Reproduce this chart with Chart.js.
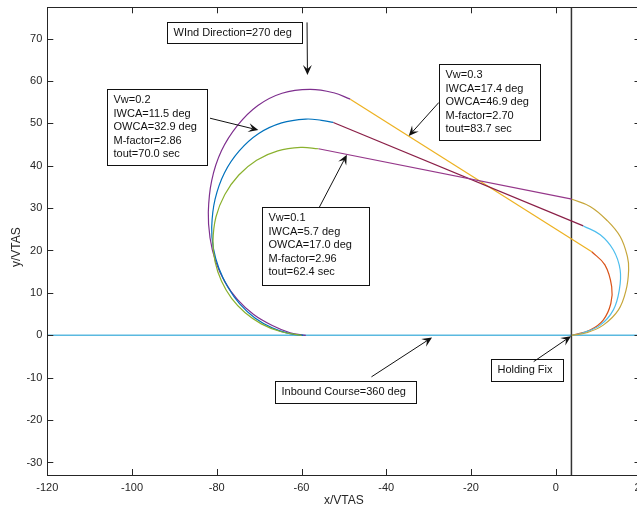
<!DOCTYPE html>
<html>
<head>
<meta charset="utf-8">
<script src="https://cdn.jsdelivr.net/npm/chart.js@4.4.0/dist/chart.umd.min.js"></script>
<style>
html, body { margin: 0; padding: 0; background: #fff; overflow: hidden; }
#wrap { width: 660px; height: 510px; }
</style>
</head>
<body>
<div id="wrap"><canvas id="myChart" width="660" height="510"></canvas></div>
<script>
// axes
var xTicks = [-120, -100, -80, -60, -40, -20, 0, 20];
var yTicks = [-30, -20, -10, 0, 10, 20, 30, 40, 50, 60, 70];
var xRange = [-120, 20];
var yRange = [-32.95, 77.36];

// holding fix and inbound course
var fixX = 3.7;
var courseY = 0;

// Vw = 0.1
var turnOut1 = [[3.8,32.1],[8.1,30.4],[12.0,27.2],[15.2,23.3],[16.9,18.6],[17.2,15.4],[16.6,10.7],[14.8,6.0],[11.2,2.4],[7.3,0.6],[3.8,0]];
var leg1 = [[-56.0,44.0],[3.8,32.1]];
var turnIn1 = [[-56.0,44.0],[-60.2,44.3],[-65.6,43.5],[-70.6,41.3],[-74.8,37.8],[-78.1,33.2],[-80.2,27.9],[-80.9,22.1],[-80.4,17.3],[-78.9,12.8],[-76.5,8.7],[-73.3,5.3],[-69.5,2.7],[-65.0,0.9],[-60.0,0]];

// Vw = 0.2
var turnOut2 = [[6.5,25.8],[10.5,23.7],[13.6,20.1],[15.2,15.4],[15.0,10.7],[13.6,6.0],[10.5,2.4],[6.5,0.6],[3.8,0]];
var leg2 = [[-52.5,50.2],[6.5,25.8]];
var turnIn2 = [[-52.5,50.2],[-55.3,50.7],[-59.0,51.0],[-64.7,50.1],[-70.1,47.6],[-74.7,43.5],[-78.2,38.3],[-80.4,32.1],[-81.2,25.5],[-80.8,20.5],[-79.5,15.8],[-77.4,11.4],[-74.6,7.4],[-71.0,4.1],[-66.8,1.7],[-62.8,0.4],[-59.6,0]];

// Vw = 0.3
var turnOut3 = [[8.5,19.7],[11.6,16.6],[13.2,11.5],[13.0,7.5],[11.2,3.6],[8.1,1.25],[3.8,0]];
var leg3 = [[-48.5,55.7],[8.5,19.7]];
var turnIn3 = [[-48.5,55.7],[-52.4,57.2],[-58.0,58.0],[-64.6,57.1],[-70.3,54.2],[-75.1,49.5],[-78.9,43.5],[-81.2,36.5],[-82.0,29.0],[-81.6,23.0],[-80.3,17.5],[-78.1,12.6],[-75.1,8.4],[-71.3,4.9],[-66.9,2.3],[-62.7,0.6],[-59.0,0]];

// text boxes (top-left in data units, size in px) and arrows (data units)
var notes = [
  { lines: ['WInd Direction=270 deg'], x: -91.8, y: 74.0, w: 135, h: 21, from: [-58.7, 73.8], to: [-58.6, 61.4] },
  { lines: ['Vw=0.2', 'IWCA=11.5 deg', 'OWCA=32.9 deg', 'M-factor=2.86', 'tout=70.0 sec'], x: -105.8, y: 58.1, w: 100, h: 76, from: [-81.6, 51.2], to: [-70.2, 48.4] },
  { lines: ['Vw=0.3', 'IWCA=17.4 deg', 'OWCA=46.9 deg', 'M-factor=2.70', 'tout=83.7 sec'], x: -27.6, y: 64.0, w: 101, h: 76, from: [-27.6, 54.9], to: [-34.7, 47.0] },
  { lines: ['Vw=0.1', 'IWCA=5.7 deg', 'OWCA=17.0 deg', 'M-factor=2.96', 'tout=62.4 sec'], x: -69.4, y: 30.2, w: 107, h: 78, from: [-55.8, 30.2], to: [-49.3, 42.6] },
  { lines: ['Inbound Course=360 deg'], x: -66.25, y: -10.8, w: 141, h: 22, from: [-43.5, -9.8], to: [-29.2, -0.5] },
  { lines: ['Holding Fix'], x: -15.2, y: -5.66, w: 72, h: 22, from: [-5.2, -6.2], to: [3.6, -0.2] }
];

var FONT = '"Liberation Sans", Arial, Helvetica, sans-serif';
var AX = '#262626';

function pts(a) { return a.map(function(p) { return { x: p[0], y: p[1] }; }); }
function line(data, color, tension) {
  return { data: pts(data), showLine: true, borderColor: color, borderWidth: 1.2, pointRadius: 0, fill: false, tension: tension };
}
function noPad(s) { s.paddingTop = 0; s.paddingBottom = 0; s.paddingLeft = 0; s.paddingRight = 0; }

function drawArrow(ctx, x1, y1, x2, y2) {
  var a = Math.atan2(y2 - y1, x2 - x1), c = Math.cos(a), s = Math.sin(a);
  var L = 10, W = 4.5;
  ctx.beginPath();
  ctx.moveTo(x1, y1);
  ctx.lineTo(x2 - c * L * 0.6, y2 - s * L * 0.6);
  ctx.stroke();
  ctx.beginPath();
  ctx.moveTo(x2, y2);
  ctx.lineTo(x2 - L * c + W * s, y2 - L * s - W * c);
  ctx.lineTo(x2 - 0.6 * L * c, y2 - 0.6 * L * s);
  ctx.lineTo(x2 - L * c - W * s, y2 - L * s + W * c);
  ctx.closePath();
  ctx.fill();
}

var matlabAxes = {
  id: 'matlabAxes',
  afterDraw: function(chart) {
    var ctx = chart.ctx, a = chart.chartArea, sx = chart.scales.x, sy = chart.scales.y;
    ctx.save();
    // box + inward ticks
    ctx.strokeStyle = AX;
    ctx.lineWidth = 1;
    ctx.strokeRect(Math.round(a.left) + 0.5, Math.round(a.top) + 0.5, Math.round(a.right - a.left), Math.round(a.bottom - a.top));
    var tl = 6;
    ctx.beginPath();
    xTicks.forEach(function(v) {
      var px = Math.round(sx.getPixelForValue(v)) + 0.5;
      ctx.moveTo(px, a.bottom); ctx.lineTo(px, a.bottom - tl);
      ctx.moveTo(px, a.top); ctx.lineTo(px, a.top + tl);
    });
    yTicks.forEach(function(v) {
      var py = Math.round(sy.getPixelForValue(v)) + 0.5;
      ctx.moveTo(a.left, py); ctx.lineTo(a.left + tl, py);
      ctx.moveTo(a.right, py); ctx.lineTo(a.right - tl, py);
    });
    ctx.stroke();

    // axis titles
    ctx.fillStyle = AX;
    ctx.font = '12px ' + FONT;
    ctx.textAlign = 'center';
    ctx.textBaseline = 'middle';
    ctx.fillText('x/VTAS', (a.left + a.right) / 2, 501);
    ctx.save();
    ctx.translate(17, (a.top + a.bottom) / 2 + 6);
    ctx.rotate(-Math.PI / 2);
    ctx.fillText('y/VTAS', 0, 0);
    ctx.restore();

    // annotations
    ctx.font = '11px ' + FONT;
    ctx.textAlign = 'left';
    notes.forEach(function(n) {
      var bx = Math.round(sx.getPixelForValue(n.x)) + 0.5;
      var by = Math.round(sy.getPixelForValue(n.y)) + 0.5;
      ctx.fillStyle = '#fff';
      ctx.fillRect(bx, by, n.w, n.h);
      ctx.strokeStyle = '#111';
      ctx.lineWidth = 1;
      ctx.strokeRect(bx, by, n.w, n.h);
      ctx.fillStyle = '#111';
      n.lines.forEach(function(t, i) {
        ctx.fillText(t, bx + 6, by + 10.5 + i * 13.6);
      });
      ctx.strokeStyle = '#111';
      ctx.fillStyle = '#111';
      drawArrow(ctx, sx.getPixelForValue(n.from[0]), sy.getPixelForValue(n.from[1]),
                sx.getPixelForValue(n.to[0]), sy.getPixelForValue(n.to[1]));
    });
    ctx.restore();
  }
};

var ctx = document.getElementById('myChart').getContext('2d');
new Chart(ctx, {
  type: 'scatter',
  data: {
    datasets: [
      line(turnOut1, '#C6A63A', 0.4),
      line(turnOut2, '#4DBEEE', 0.4),
      line(turnOut3, '#D95319', 0.4),
      line(leg1, '#95378A', 0),
      line(leg2, '#8A1F47', 0),
      line(leg3, '#EDB120', 0),
      line(turnIn1, '#8AB12E', 0.4),
      line(turnIn2, '#0072BD', 0.4),
      line(turnIn3, '#7E2F8E', 0.4),
      { data: [{ x: fixX, y: yRange[0] - 5 }, { x: fixX, y: yRange[1] + 5 }], showLine: true, borderColor: '#333333', borderWidth: 1.5, pointRadius: 0 },
      { data: [{ x: xRange[0], y: courseY }, { x: xRange[1], y: courseY }], showLine: true, borderColor: '#5AB9E0', borderWidth: 1.6, pointRadius: 0 }
    ]
  },
  options: {
    responsive: false,
    animation: false,
    events: [],
    layout: { padding: { top: 7.3, right: 19.5, left: 0, bottom: 0 } },
    plugins: { legend: { display: false }, tooltip: { enabled: false } },
    scales: {
      x: {
        type: 'linear', position: 'bottom', min: xRange[0], max: xRange[1],
        grid: { display: false, drawTicks: false }, border: { display: false },
        ticks: { autoSkip: false, maxRotation: 0, padding: 6, color: AX, font: { family: FONT, size: 11 } },
        afterBuildTicks: function(s) { s.ticks = xTicks.map(function(v) { return { value: v }; }); },
        afterFit: function(s) { s.height = 35; noPad(s); }
      },
      y: {
        type: 'linear', position: 'left', min: yRange[0], max: yRange[1],
        grid: { display: false, drawTicks: false }, border: { display: false },
        ticks: { autoSkip: false, padding: 5, color: AX, font: { family: FONT, size: 11 } },
        afterBuildTicks: function(s) { s.ticks = yTicks.map(function(v) { return { value: v }; }); },
        afterFit: function(s) { s.width = 47.3; noPad(s); }
      }
    }
  },
  plugins: [matlabAxes]
});
</script>
</body>
</html>
